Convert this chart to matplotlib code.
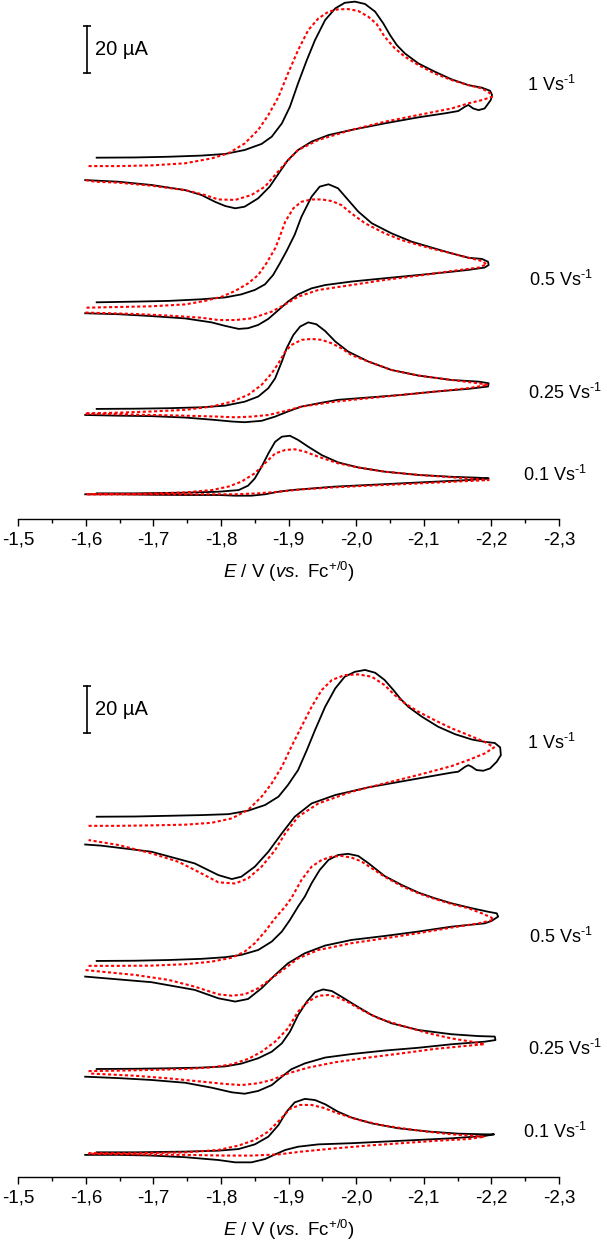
import matplotlib.pyplot as plt
from matplotlib.ticker import MultipleLocator, FuncFormatter

plt.rcParams['font.family'] = ['Liberation Sans', 'DejaVu Sans']
plt.rcParams['mathtext.fontset'] = 'custom'
plt.rcParams['mathtext.rm'] = 'Liberation Sans'
plt.rcParams['mathtext.it'] = 'Liberation Sans:italic'
plt.rcParams['mathtext.default'] = 'regular'

rates = ['1', '0.5', '0.25', '0.1']

# ---------------- top panel (E in V, I in uA relative to trace offset) ----------------
a1_exp_E = [-1.616, -1.673, -1.722, -1.771, -1.806, -1.835, -1.860, -1.875, -1.890, -1.902,
            -1.914, -1.927, -1.939, -1.954, -1.969, -1.983, -1.998, -2.013, -2.028, -2.040,
            -2.050, -2.060, -2.072, -2.092, -2.116, -2.141, -2.166, -2.186, -2.198, -2.201,
            -2.199, -2.190, -2.181, -2.173, -2.166, -2.161, -2.151, -2.131, -2.092, -2.042,
            -1.993, -1.959, -1.934, -1.914, -1.899, -1.887, -1.872, -1.855, -1.835, -1.821,
            -1.806, -1.791, -1.771, -1.747, -1.697, -1.648, -1.599]
a1_exp_I = [0, 0.1, 0.4, 0.9, 1.6, 3.3, 5.9, 9.0, 14.7, 21.9,
            31.9, 41.9, 50.4, 59.0, 64.0, 66.4, 66.9, 65.9, 62.6, 57.6,
            52.6, 48.3, 44.7, 40.4, 36.9, 33.6, 31.1, 30.0, 28.7, 26.9,
            24.7, 21.1, 20.4, 21.1, 22.6, 21.9, 20.0, 19.0, 17.3, 14.7,
            11.9, 9.7, 6.9, 3.3, -1.0, -6.0, -12.4, -17.4, -21.0, -21.7,
            -20.7, -18.9, -16.0, -13.9, -11.7, -10.3, -9.6]
a1_sim_E = [-1.604, -1.648, -1.697, -1.747, -1.786, -1.811, -1.835, -1.855, -1.870, -1.885,
            -1.899, -1.914, -1.929, -1.944, -1.959, -1.973, -1.988, -2.003, -2.018, -2.030,
            -2.042, -2.057, -2.072, -2.092, -2.116, -2.141, -2.166, -2.186, -2.198, -2.201,
            -2.186, -2.166, -2.141, -2.092, -2.042, -1.993, -1.944, -1.914, -1.895, -1.880,
            -1.865, -1.845, -1.821, -1.796, -1.776, -1.747, -1.697, -1.648, -1.614, -1.599]
a1_sim_I = [-3.6, -3.6, -3.3, -2.4, -0.3, 1.9, 6.1, 11.9, 18.3, 26.1,
            36.1, 46.1, 54.7, 59.7, 62.6, 63.6, 63.7, 62.9, 60.4, 57.4,
            51.9, 46.9, 43.3, 39.7, 36.1, 33.3, 31.1, 29.7, 27.6, 26.1,
            24.7, 23.3, 21.1, 18.3, 15.4, 11.9, 7.6, 3.3, -2.4, -7.4,
            -12.4, -16.0, -18.1, -17.9, -16.0, -13.9, -12.0, -10.7, -10.3, -9.6]

a05_exp_E = [-1.616, -1.673, -1.722, -1.771, -1.806, -1.830, -1.850, -1.865, -1.877, -1.887,
             -1.897, -1.909, -1.919, -1.934, -1.946, -1.959, -1.973, -1.988, -2.003, -2.023,
             -2.052, -2.082, -2.116, -2.141, -2.166, -2.186, -2.195, -2.196, -2.190,
             -2.166, -2.141, -2.092, -2.042, -1.993, -1.954, -1.934, -1.914, -1.899, -1.885,
             -1.870, -1.855, -1.840, -1.826, -1.806, -1.786, -1.747, -1.697, -1.648, -1.599]
a05_exp_I = [0, 0.3, 0.6, 1.3, 2.1, 3.4, 5.3, 7.7, 11.7, 16.7,
             22.0, 29.0, 36.7, 45.3, 49.6, 50.6, 48.9, 43.9, 38.9, 33.9,
             29.6, 26.0, 23.1, 21.0, 19.1, 18.6, 17.4, 16.0, 14.9,
             13.9, 13.1, 11.7, 10.3, 8.9, 7.4, 6.0, 3.4, 0.3, -3.3,
             -7.1, -9.7, -11.1, -11.4, -10.1, -8.6, -6.9, -5.9, -5.1, -4.7]
a05_sim_E = [-1.601, -1.648, -1.697, -1.747, -1.776, -1.801, -1.821, -1.840, -1.855, -1.867,
             -1.880, -1.885, -1.895, -1.907, -1.919, -1.934, -1.949, -1.964, -1.978, -1.993,
             -2.013, -2.042, -2.067, -2.092, -2.116, -2.141, -2.166, -2.186, -2.193,
             -2.181, -2.141, -2.092, -2.042, -1.993, -1.944, -1.914, -1.895, -1.875, -1.845,
             -1.821, -1.796, -1.771, -1.722, -1.673, -1.599]
a05_sim_I = [-2.3, -2.0, -1.7, -0.9, 0.6, 2.4, 4.9, 8.1, 11.7, 16.7,
             23.1, 26.7, 34.6, 40.3, 43.1, 44.1, 44.1, 43.4, 41.7, 38.1,
             33.9, 29.6, 26.7, 24.6, 22.7, 21.0, 19.1, 17.7, 16.3,
             14.9, 13.4, 11.4, 9.6, 7.4, 5.3, 2.4, -0.9, -4.0, -6.9,
             -7.6, -7.6, -6.6, -5.7, -5.0, -4.4]

a025_exp_E = [-1.616, -1.673, -1.722, -1.771, -1.806, -1.835, -1.855, -1.870, -1.880, -1.890,
              -1.897, -1.907, -1.917, -1.929, -1.941, -1.954, -1.969, -1.988, -2.018, -2.052,
              -2.092, -2.141, -2.181, -2.196, -2.195,
              -2.166, -2.116, -2.067, -2.018, -1.973, -1.944, -1.919, -1.899, -1.880, -1.860,
              -1.835, -1.816, -1.786, -1.747, -1.697, -1.648, -1.599]
a025_exp_I = [0, 0.1, 0.3, 0.7, 1.4, 3.1, 5.3, 8.9, 13.1, 20.3,
              26.0, 31.7, 35.3, 37.1, 36.3, 33.4, 28.9, 24.6, 20.3, 16.7,
              14.3, 12.4, 11.7, 11.0, 9.6,
              8.6, 7.4, 6.0, 4.9, 3.9, 2.4, 1.0, -1.1, -3.3, -5.1,
              -5.7, -5.4, -4.6, -3.7, -3.1, -2.9, -2.6]
a025_sim_E = [-1.601, -1.648, -1.697, -1.747, -1.786, -1.816, -1.840, -1.860, -1.875, -1.885,
              -1.895, -1.904, -1.919, -1.934, -1.949, -1.964, -1.978, -1.993, -2.018, -2.052,
              -2.092, -2.141, -2.181, -2.195,
              -2.166, -2.116, -2.067, -2.018, -1.969, -1.919, -1.895, -1.870, -1.845, -1.821,
              -1.796, -1.747, -1.697, -1.648, -1.599]
a025_sim_I = [-1.9, -1.6, -1.1, -0.4, 1.0, 3.1, 6.0, 10.3, 15.3, 19.6,
              24.6, 27.4, 29.6, 30.0, 29.6, 28.1, 26.0, 23.1, 20.3, 16.7,
              14.3, 12.4, 11.0, 10.3,
              8.9, 7.4, 6.0, 4.6, 3.1, 1.0, -0.9, -2.6, -3.3, -3.6,
              -3.3, -2.9, -2.6, -2.3, -2.1]

a01_exp_E = [-1.616, -1.673, -1.747, -1.796, -1.826, -1.840, -1.850, -1.860, -1.870, -1.880,
             -1.890, -1.902, -1.914, -1.929, -1.949, -1.973, -2.003, -2.042, -2.092, -2.141,
             -2.181, -2.196,
             -2.166, -2.116, -2.067, -2.018, -1.969, -1.934, -1.904, -1.885, -1.865, -1.845,
             -1.821, -1.796, -1.747, -1.697, -1.648, -1.599]
a01_exp_I = [0, 0, 0.3, 0.7, 1.4, 3.3, 6.4, 11.4, 17.1, 22.1,
             24.3, 24.7, 22.9, 20.0, 16.4, 13.3, 11.1, 9.3, 7.9, 7.1,
             6.7, 6.4,
             5.7, 5.0, 4.3, 3.6, 2.9, 2.1, 1.4, 0.7, -0.4, -1.0,
             -1.0, -0.7, -0.7, -0.6, -0.4, -0.4]
a01_sim_E = [-1.601, -1.673, -1.747, -1.786, -1.811, -1.830, -1.850, -1.865, -1.880, -1.895,
             -1.909, -1.924, -1.944, -1.973, -2.003, -2.042, -2.092, -2.141, -2.181, -2.196,
             -2.166, -2.116, -2.067, -2.018, -1.969, -1.919, -1.885, -1.855, -1.821, -1.747,
             -1.673, -1.601]
a01_sim_I = [-0.4, -0.3, 0.4, 1.4, 2.9, 5.0, 8.6, 12.9, 17.1, 18.6,
             18.9, 17.9, 15.7, 12.9, 11.1, 9.3, 7.9, 6.9, 6.1, 5.7,
             5.3, 4.6, 3.9, 3.3, 2.6, 1.7, 0.7, 0, -0.4, -0.4,
             -0.4, -0.4]

# ---------------- bottom panel ----------------
b1_exp_E = [-1.616, -1.673, -1.722, -1.771, -1.811, -1.840, -1.865, -1.885, -1.899, -1.914,
            -1.927, -1.939, -1.954, -1.969, -1.983, -1.998, -2.013, -2.028, -2.042, -2.055,
            -2.065, -2.077, -2.097, -2.121, -2.146, -2.171, -2.190, -2.205, -2.213, -2.214,
            -2.208, -2.198, -2.188, -2.178, -2.171, -2.166, -2.161, -2.151, -2.141, -2.092,
            -2.018, -1.969, -1.934, -1.909, -1.890, -1.870, -1.850, -1.830, -1.816, -1.796,
            -1.761, -1.697, -1.623, -1.599]
b1_exp_I = [0, 0.1, 0.4, 0.7, 1.1, 2.6, 5.0, 8.6, 13.6, 20.0,
            28.6, 37.1, 47.1, 55.0, 60.0, 62.1, 62.9, 61.7, 58.6, 54.3,
            50.7, 47.1, 42.9, 38.6, 35.4, 33.1, 32.1, 31.6, 29.7, 26.4,
            23.6, 20.7, 19.7, 20.0, 21.4, 22.1, 21.4, 19.3, 18.9, 16.4,
            12.6, 9.3, 5.7, 0, -7.1, -15.0, -21.4, -25.7, -26.7, -25.0,
            -20.0, -15.0, -12.4, -11.9]
b1_sim_E = [-1.604, -1.648, -1.697, -1.747, -1.786, -1.816, -1.840, -1.860, -1.875, -1.890,
            -1.904, -1.919, -1.934, -1.949, -1.964, -1.983, -2.003, -2.023, -2.042, -2.057,
            -2.072, -2.092, -2.116, -2.141, -2.166, -2.190, -2.204,
            -2.190, -2.166, -2.141, -2.092, -2.042, -1.993, -1.944, -1.914, -1.895, -1.880,
            -1.860, -1.840, -1.821, -1.796, -1.771, -1.737, -1.697, -1.648, -1.604]
b1_sim_I = [-3.9, -3.9, -3.7, -3.4, -2.6, -0.7, 2.9, 8.6, 14.3, 21.4,
            30.0, 38.6, 47.1, 54.3, 58.6, 60.7, 61.0, 60.0, 56.4, 52.1,
            48.6, 45.0, 41.4, 37.9, 35.0, 32.1, 29.7,
            27.1, 24.3, 21.7, 17.9, 14.3, 10.7, 5.7, 0, -7.1, -14.3,
            -21.4, -26.4, -28.6, -28.1, -24.3, -19.3, -15.7, -12.1, -10.0]

b05_exp_E = [-1.616, -1.673, -1.722, -1.771, -1.806, -1.830, -1.855, -1.875, -1.890, -1.902,
             -1.914, -1.924, -1.934, -1.946, -1.959, -1.973, -1.988, -2.003, -2.018, -2.042,
             -2.067, -2.092, -2.116, -2.141, -2.171, -2.195, -2.208, -2.210,
             -2.200, -2.190, -2.141, -2.092, -2.042, -1.993, -1.954, -1.924, -1.899, -1.880,
             -1.860, -1.840, -1.821, -1.796, -1.761, -1.697, -1.648, -1.599]
b05_exp_I = [0, 0.1, 0.4, 0.9, 1.6, 2.6, 4.7, 8.3, 12.6, 17.6,
             23.3, 27.6, 33.3, 39.0, 43.3, 45.4, 45.9, 45.0, 41.9, 36.4,
             32.6, 29.3, 26.9, 24.7, 22.6, 21.1, 20.4, 19.0,
             17.1, 16.1, 14.7, 12.6, 10.7, 9.0, 6.6, 3.3, -1.0, -6.0,
             -11.7, -16.3, -17.4, -16.0, -12.4, -9.1, -7.9, -6.7]
b05_sim_E = [-1.604, -1.648, -1.697, -1.747, -1.786, -1.816, -1.835, -1.850, -1.865, -1.880,
             -1.895, -1.904, -1.919, -1.934, -1.949, -1.964, -1.978, -1.993, -2.008, -2.023,
             -2.042, -2.067, -2.092, -2.116, -2.141, -2.166, -2.186, -2.200, -2.203,
             -2.181, -2.141, -2.092, -2.042, -1.993, -1.944, -1.914, -1.895, -1.875, -1.855,
             -1.835, -1.816, -1.796, -1.761, -1.722, -1.673, -1.599]
b05_sim_I = [-2.1, -2.1, -2.0, -1.4, -0.3, 1.4, 4.0, 7.6, 12.6, 18.3,
             23.3, 26.9, 34.7, 40.4, 43.3, 44.7, 45.0, 44.3, 42.6, 39.7,
             36.1, 32.1, 29.0, 26.6, 24.4, 22.6, 20.4, 18.6, 17.6,
             16.1, 14.3, 11.9, 9.7, 7.6, 4.7, 1.1, -3.1, -7.4, -11.7,
             -14.3, -14.9, -14.3, -11.0, -8.1, -6.0, -3.9]

b025_exp_E = [-1.616, -1.673, -1.722, -1.771, -1.806, -1.830, -1.855, -1.875, -1.890, -1.902,
              -1.914, -1.927, -1.939, -1.951, -1.964, -1.978, -1.998, -2.023, -2.052, -2.092,
              -2.141, -2.181, -2.205, -2.206,
              -2.190, -2.141, -2.092, -2.042, -1.993, -1.954, -1.924, -1.904, -1.890, -1.875,
              -1.855, -1.835, -1.816, -1.786, -1.747, -1.697, -1.648, -1.599]
b025_exp_I = [0, 0.1, 0.3, 0.6, 1.1, 2.3, 4.6, 7.4, 11.0, 16.0,
              23.1, 28.9, 32.9, 34.1, 33.4, 31.0, 27.4, 23.1, 19.6, 16.7,
              14.9, 14.1, 13.9, 12.4,
              11.7, 10.6, 9.1, 7.9, 6.4, 4.9, 2.4, -0.1, -3.3, -6.9,
              -9.4, -10.6, -10.0, -8.0, -5.9, -4.7, -3.9, -3.3]
b025_sim_E = [-1.604, -1.648, -1.697, -1.747, -1.786, -1.816, -1.840, -1.860, -1.880, -1.899,
              -1.914, -1.929, -1.944, -1.959, -1.973, -1.988, -2.008, -2.033, -2.067, -2.107,
              -2.141, -2.171, -2.190,
              -2.166, -2.116, -2.067, -2.018, -1.969, -1.929, -1.899, -1.875, -1.855, -1.830,
              -1.806, -1.771, -1.722, -1.673, -1.604]
b025_sim_I = [-0.9, -0.7, -0.4, 0, 0.7, 2.0, 4.3, 7.4, 11.7, 17.4,
              24.6, 28.9, 31.4, 31.7, 30.6, 28.6, 25.3, 21.7, 18.6, 15.3,
              13.1, 11.7, 10.6,
              10.0, 8.6, 6.7, 4.9, 2.9, 0.6, -1.9, -4.7, -6.1, -6.9,
              -6.4, -5.4, -4.0, -2.9, -1.9]

b01_exp_E = [-1.616, -1.673, -1.747, -1.796, -1.826, -1.850, -1.870, -1.885, -1.897, -1.909,
             -1.924, -1.939, -1.954, -1.973, -1.993, -2.023, -2.062, -2.107, -2.151, -2.190,
             -2.204,
             -2.190, -2.141, -2.092, -2.042, -1.993, -1.944, -1.914, -1.895, -1.880, -1.865,
             -1.845, -1.821, -1.796, -1.747, -1.697, -1.648, -1.599]
b01_exp_I = [0, 0, 0.3, 0.7, 1.4, 3.4, 6.7, 11.7, 17.4, 21.4,
             22.9, 22.4, 20.6, 17.4, 14.9, 12.4, 10.3, 8.9, 8.0, 7.7,
             7.7,
             7.0, 6.0, 5.3, 4.6, 3.9, 3.4, 2.4, 1.0, -0.9, -2.9,
             -4.3, -4.3, -3.3, -2.1, -1.4, -1.1, -1.1]
b01_sim_E = [-1.604, -1.673, -1.747, -1.796, -1.826, -1.850, -1.870, -1.887, -1.902, -1.917,
             -1.934, -1.951, -1.973, -2.003, -2.042, -2.092, -2.141, -2.190,
             -2.166, -2.116, -2.067, -2.018, -1.969, -1.919, -1.885, -1.845, -1.806, -1.747,
             -1.673, -1.604]
b01_sim_I = [-0.4, -0.4, 0, 1.0, 2.9, 5.3, 8.9, 13.9, 18.6, 20.3,
             20.3, 19.1, 16.7, 13.9, 11.4, 9.3, 7.7, 6.7,
             5.7, 4.9, 3.9, 2.9, 1.7, 0.3, -0.9, -1.4, -1.4, -1.1,
             -0.9, -0.6]

# vertical stacking offsets of the traces (uA)
top_offsets = [155.0, 93.0, 47.3, 11.1]
bottom_offsets = [154.4, 92.6, 46.3, 10.6]
top_label_y = [186.2, 102.6, 54.1, 19.0]
bottom_label_y = [186.0, 103.0, 55.0, 19.5]
label_E = [-2.2525, -2.2555, -2.254, -2.2465]

top_curves = [(a1_exp_E, a1_exp_I, a1_sim_E, a1_sim_I),
              (a05_exp_E, a05_exp_I, a05_sim_E, a05_sim_I),
              (a025_exp_E, a025_exp_I, a025_sim_E, a025_sim_I),
              (a01_exp_E, a01_exp_I, a01_sim_E, a01_sim_I)]
bottom_curves = [(b1_exp_E, b1_exp_I, b1_sim_E, b1_sim_I),
                 (b05_exp_E, b05_exp_I, b05_sim_E, b05_sim_I),
                 (b025_exp_E, b025_exp_I, b025_sim_E, b025_sim_I),
                 (b01_exp_E, b01_exp_I, b01_sim_E, b01_sim_I)]

fig = plt.figure(figsize=(6.07, 12.47), dpi=100)
ax_top = fig.add_axes([0.0301, 0.5836, 0.8908, 0.4164])
ax_bot = fig.add_axes([0.0301, 0.0561, 0.8908, 0.4467])


def draw_panel(ax, curves, offsets, label_y, ytop, bar_y):
    for (eE, eI, sE, sI), off in zip(curves, offsets):
        ax.plot(eE, [v + off for v in eI], color='black', lw=1.3, clip_on=False,
                solid_joinstyle='round')
        ax.plot(sE, [v + off for v in sI], color='red', lw=1.5,
                linestyle=(0, (1.5, 1.2)), clip_on=False)
    for r, xe, ye in zip(rates, label_E, label_y):
        ax.text(xe, ye, r + ' Vs$^{\\text{-}1}$', fontsize=13, ha='left', va='center')
    # 20 uA scale bar
    ax.plot([-1.601, -1.601], [bar_y, bar_y + 20], color='black', lw=1.2,
            marker='_', ms=6, mew=1.2)
    ax.text(-1.6135, bar_y + 10, '20 µA', fontsize=14.5, ha='left', va='center')

    ax.set_xlim(-1.5, -2.3)
    ax.set_ylim(0, ytop)
    for s in ['left', 'right', 'top']:
        ax.spines[s].set_visible(False)
    ax.spines['bottom'].set_linewidth(1.0)
    ax.set_yticks([])
    ax.xaxis.set_major_locator(MultipleLocator(0.1))
    ax.xaxis.set_minor_locator(MultipleLocator(0.05))
    ax.xaxis.set_major_formatter(FuncFormatter(lambda v, p: f'{v:.1f}'.replace('.', ',')))
    ax.tick_params(axis='x', which='major', direction='out', length=5, width=1.0,
                   labelsize=13.5, pad=4)
    ax.tick_params(axis='x', which='minor', direction='out', length=3, width=1.0)
    ax.set_xlabel('$\\mathit{E}$ / V ($\\mathit{vs.}$ Fc$^{+/0}$)', fontsize=13.5, labelpad=8)


draw_panel(ax_top, top_curves, top_offsets, top_label_y, 222.6, 191.4)
draw_panel(ax_bot, bottom_curves, bottom_offsets, bottom_label_y, 238.7, 190.4)

fig.savefig('out.png', dpi=100)
